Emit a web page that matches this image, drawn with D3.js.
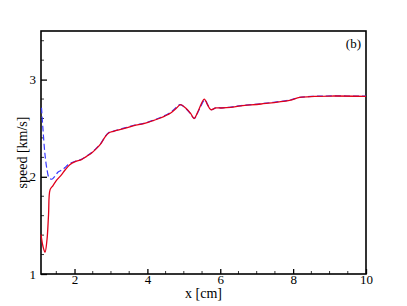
<!DOCTYPE html>
<html>
<head>
<meta charset="utf-8">
<script src="https://cdn.jsdelivr.net/npm/d3@7"></script>
<style>
  body { margin: 0; background: #fff; }
  text { font-family: "Liberation Serif", "DejaVu Serif", serif; }
</style>
</head>
<body>
<script>
// chart size
var width = 407;
var height = 306;
var margin = {top: 31, right: 41, bottom: 32, left: 41};

// red solid curve
var redX = [1.08, 1.135, 1.19, 1.245, 1.287, 1.33, 1.41, 1.52, 1.64, 1.74, 1.87, 2.02, 2.19, 2.32, 2.47, 2.6, 2.73, 2.85, 2.94, 3.07, 3.35, 3.63, 3.90, 4.18, 4.36, 4.64, 4.78, 4.91, 5.05, 5.19, 5.28, 5.41, 5.56, 5.65, 5.74, 5.88, 6.02, 6.29, 6.57, 7.12, 7.90, 8.18, 8.59, 9.05, 10.0];
var redY = [1.406, 1.283, 1.224, 1.355, 1.61, 1.868, 1.91, 1.97, 2.02, 2.07, 2.125, 2.156, 2.177, 2.208, 2.246, 2.29, 2.345, 2.416, 2.451, 2.468, 2.495, 2.526, 2.547, 2.581, 2.605, 2.657, 2.70, 2.742, 2.708, 2.65, 2.60, 2.69, 2.80, 2.742, 2.69, 2.708, 2.708, 2.714, 2.73, 2.749, 2.786, 2.817, 2.827, 2.831, 2.827];

// blue dashed curve
var blueX = [1.094, 1.135, 1.19, 1.245, 1.30, 1.38, 1.47, 1.55, 1.64, 1.74, 1.82, 2.02, 2.19, 2.32, 2.47, 2.6, 2.73, 2.85, 2.94, 3.07, 3.35, 3.63, 3.90, 4.18, 4.36, 4.64, 4.78, 4.89, 5.05, 5.19, 5.29, 5.42, 5.58, 5.67, 5.76, 5.88, 6.02, 6.29, 6.57, 7.12, 7.90, 8.18, 8.59, 9.05, 10.0];
var blueY = [2.711, 2.485, 2.228, 2.074, 1.992, 1.975, 2.01, 2.05, 2.067, 2.095, 2.125, 2.16, 2.18, 2.21, 2.25, 2.295, 2.35, 2.42, 2.455, 2.47, 2.5, 2.53, 2.55, 2.585, 2.61, 2.665, 2.71, 2.742, 2.705, 2.645, 2.60, 2.69, 2.79, 2.73, 2.69, 2.71, 2.71, 2.718, 2.733, 2.752, 2.79, 2.817, 2.828, 2.832, 2.829];

var xTicks = [2, 4, 6, 8, 10];
var yTicks = [1, 2, 3];

var w = width - margin.left - margin.right;
var h = height - margin.top - margin.bottom;

var svg = d3.select("body").append("svg")
    .attr("width", width)
    .attr("height", height);

var g = svg.append("g")
    .attr("transform", "translate(" + margin.left + "," + margin.top + ")");

var x = d3.scaleLinear().domain([1.08, 10]).range([0, w]);
var y = d3.scaleLinear().domain([1, 3.5]).range([h, 0]);

// minor ticks (inward)
var xMinor = d3.range(1.5, 10, 0.5).filter(function(d) { return d % 2 !== 0; });
var yMinor = d3.range(1.2, 3.5, 0.2).filter(function(d) { return Math.abs(d - Math.round(d)) > 0.01; });

g.selectAll(".xminor").data(xMinor).enter().append("line")
    .attr("x1", function(d) { return x(d); })
    .attr("x2", function(d) { return x(d); })
    .attr("y1", h).attr("y2", h - 3)
    .attr("stroke", "#000").attr("stroke-width", 0.8);

g.selectAll(".yminor").data(yMinor).enter().append("line")
    .attr("y1", function(d) { return y(d); })
    .attr("y2", function(d) { return y(d); })
    .attr("x1", 0).attr("x2", 3)
    .attr("stroke", "#000").attr("stroke-width", 0.8);

// major ticks with d3 axes
var xAxis = d3.axisBottom(x).tickValues(xTicks).tickFormat(d3.format("d"))
    .tickSizeInner(-5).tickSizeOuter(0).tickPadding(1);
var yAxis = d3.axisLeft(y).tickValues(yTicks).tickFormat(d3.format("d"))
    .tickSizeInner(-6).tickSizeOuter(0).tickPadding(5);

var gx = g.append("g").attr("transform", "translate(0," + h + ")").call(xAxis);
var gy = g.append("g").call(yAxis);

[gx, gy].forEach(function(a) {
    a.attr("font-family", null).attr("font-size", null);
    a.select(".domain").remove();
    a.selectAll(".tick line").attr("stroke", "#000").attr("stroke-width", 1.3);
    a.selectAll(".tick text")
        .style("font-family", "'Liberation Serif', serif")
        .style("font-size", "13px")
        .attr("fill", "#000");
});

// frame
g.append("rect")
    .attr("width", w).attr("height", h)
    .attr("fill", "none")
    .attr("stroke", "#000")
    .attr("stroke-width", 1.6);

// lines
var line = d3.line()
    .x(function(d) { return x(d[0]); })
    .y(function(d) { return y(d[1]); })
    .curve(d3.curveCatmullRom.alpha(0.5));

g.append("path")
    .datum(d3.zip(blueX, blueY))
    .attr("d", line)
    .attr("fill", "none")
    .attr("stroke", "#3a3aff")
    .attr("stroke-width", 1.2)
    .attr("stroke-dasharray", "6,3");

g.append("path")
    .datum(d3.zip(redX, redY))
    .attr("d", line)
    .attr("fill", "none")
    .attr("stroke", "#e0001b")
    .attr("stroke-width", 1.3);

// labels
svg.append("text")
    .attr("x", margin.left + w / 2)
    .attr("y", 298)
    .attr("text-anchor", "middle")
    .style("font-size", "14px")
    .text("x [cm]");

svg.append("text")
    .attr("transform", "translate(27," + (margin.top + h / 2) + ") rotate(-90)")
    .attr("text-anchor", "middle")
    .style("font-size", "14px")
    .text("speed [km/s]");

svg.append("text")
    .attr("x", 361)
    .attr("y", 48)
    .attr("text-anchor", "end")
    .style("font-size", "13px")
    .text("(b)");
</script>
</body>
</html>
